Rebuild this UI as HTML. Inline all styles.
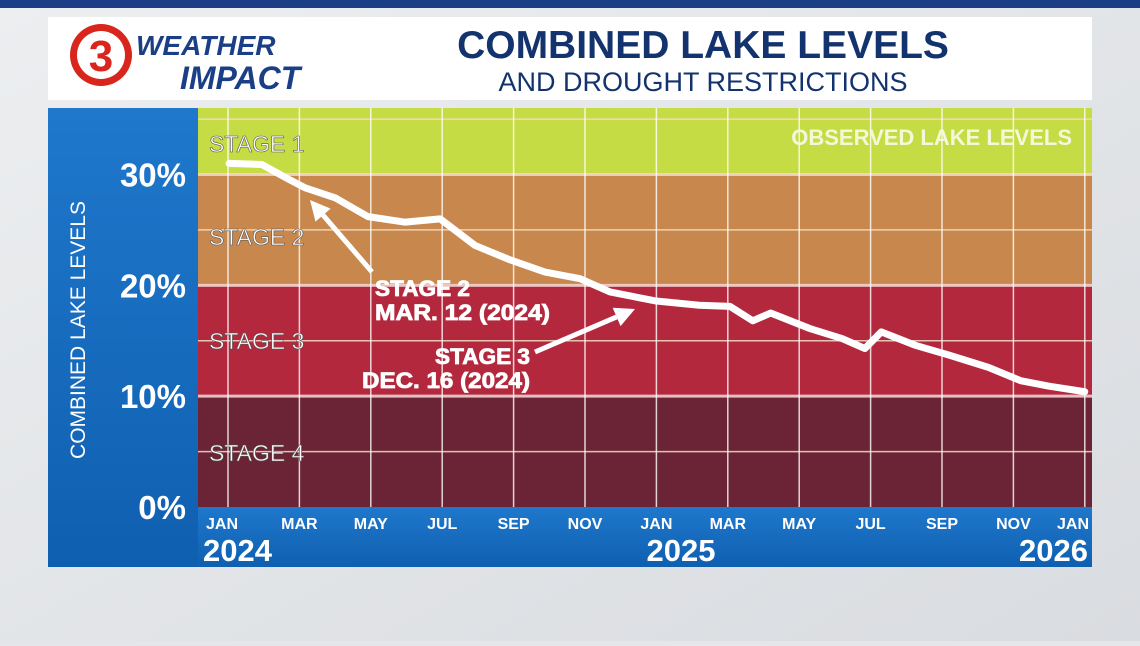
<!DOCTYPE html>
<html><head><meta charset="utf-8">
<style>
body{margin:0;width:1140px;height:641px;overflow:hidden;background:#e4e6e9;font-family:"Liberation Sans",sans-serif;}
</style></head>
<body>
<svg width="1140" height="641" viewBox="0 0 1140 641">
<defs>
<linearGradient id="bg" x1="0" y1="0" x2="1" y2="1"><stop offset="0" stop-color="#eceef0"/><stop offset="1" stop-color="#d9dce0"/></linearGradient>
<linearGradient id="blue" x1="0" y1="0" x2="0" y2="1"><stop offset="0" stop-color="#1f78cc"/><stop offset="1" stop-color="#0f5fb0"/></linearGradient>
</defs>
<rect width="1140" height="641" fill="url(#bg)"/>
<rect x="0" y="0" width="1140" height="8" fill="#1b3f86"/>
<rect x="48" y="17" width="1044" height="83" fill="#fff"/>
<g>
<circle cx="101" cy="55" r="31" fill="#d9261c"/><circle cx="101" cy="55" r="24" fill="#fff"/>
<text x="101" y="71" font-size="44" font-weight="bold" fill="#d9261c" text-anchor="middle">3</text>
<text x="136" y="55" font-size="28" font-weight="bold" fill="#1b3f86" font-style="italic">WEATHER</text>
<text x="180" y="89" font-size="32" font-weight="bold" fill="#1b3f86" font-style="italic">IMPACT</text>
</g>
<text x="703" y="58" font-size="39" font-weight="bold" fill="#13336e" text-anchor="middle">COMBINED LAKE LEVELS</text>
<text x="703" y="91" font-size="27" fill="#13336e" text-anchor="middle">AND DROUGHT RESTRICTIONS</text>
<rect x="48" y="108" width="150" height="459" fill="url(#blue)"/>
<rect x="198" y="507" width="894" height="60" fill="url(#blue)"/>
<text transform="translate(85,330) rotate(-90)" font-size="21" fill="#fff" text-anchor="middle">COMBINED LAKE LEVELS</text>
<g id="plot"></g>
<g id="axes"></g>
</svg>
<script>
const stageNames=["STAGE 4","STAGE 3","STAGE 2","STAGE 1"];
const stageBounds=[0,10,20,30,36];
const stageColors=["#6b2435","#b3283d","#c8874c","#c6dc44"];
const yTicks=[0,10,20,30];
const monthLabels=["JAN","MAR","MAY","JUL","SEP","NOV","JAN","MAR","MAY","JUL","SEP","NOV","JAN"];
const yearLabels=["2024","2025","2026"];
const months=[0.03,0.95,1.74,2.16,3.0,3.92,4.96,5.94,6.92,7.9,8.88,9.86,10.7,11.96,13.2,14.06,14.7,15.2,16.3,17.2,17.84,18.3,19.24,20.2,21.3,22.2,23.0,24.0];
const levels=[31.0,30.9,29.5,28.8,27.9,26.2,25.7,26.0,23.6,22.3,21.2,20.6,19.4,18.6,18.2,18.1,16.8,17.5,16.1,15.2,14.3,15.8,14.6,13.7,12.6,11.4,10.9,10.4];
const NS="http://www.w3.org/2000/svg";
const X0=198,X1=1092,Y0=507,Y1=108;
function xs(m){return 228+m*35.7;}
function ys(v){return Y0-(v/36)*(Y0-Y1);}
function mk(t,a,p){const e=document.createElementNS(NS,t);for(const k in a)e.setAttribute(k,a[k]);p.appendChild(e);return e;}
const plot=document.getElementById('plot'),axes=document.getElementById('axes');
for(let i=0;i<4;i++){
 const r=mk('rect',{x:X0,y:ys(stageBounds[i+1]),width:X1-X0,height:ys(stageBounds[i])-ys(stageBounds[i+1]),fill:stageColors[i]},plot);
 
 
}
for(let v=5;v<36;v+=5){
 const l=mk('line',{x1:X0,x2:X1,y1:ys(v),y2:ys(v),stroke:v%10==0?'#f6d6d6':'#f0e0c8','stroke-width':v%10==0?3:1.5,opacity:0.85},plot);
 
 
}
for(let m=0;m<=24;m+=2){
 const l=mk('line',{x1:xs(m),x2:xs(m),y1:Y1,y2:Y0,stroke:'#fff','stroke-width':1.5,opacity:0.8},plot);
 
 
}
const stageLabelY=[452,340,236,143];
for(let i=0;i<4;i++){
 const t=mk('text',{x:209,y:stageLabelY[i]+9,'font-size':23,fill:'#fff',stroke:'#555','stroke-width':0.6},plot);
 t.textContent=stageNames[i];
 
 
}
const ot=mk('text',{x:1072,y:145,'font-size':22,'font-weight':'bold',fill:'#f4f8d8','text-anchor':'end'},plot);
ot.textContent="OBSERVED LAKE LEVELS";


const pl=mk('polyline',{points:months.map((m,i)=>xs(m)+','+ys(levels[i])).join(' '),fill:'none',stroke:'#fff','stroke-width':7,'stroke-linejoin':'round','stroke-linecap':'round'},plot);


function arrow(x1,y1,x2,y2,name){
 const g=mk('g',{},plot);
 
 
 const a=Math.atan2(y2-y1,x2-x1),L=20;
 const bx=x2-L*Math.cos(a),by=y2-L*Math.sin(a);
 mk('line',{x1:x1,y1:y1,x2:bx,y2:by,stroke:'#fff','stroke-width':5},g);
 const px=-Math.sin(a)*10,py=Math.cos(a)*10;
 mk('polygon',{points:`${x2},${y2} ${bx+px},${by+py} ${bx-px},${by-py}`,fill:'#fff'},g);
}
arrow(372,272,310,200,'stage2-arrow');
arrow(535,352,635,309,'stage3-arrow');
[["STAGE 2",375,296,"start",95],["MAR. 12 (2024)",375,320,"start",175],["STAGE 3",530,364,"end",95],["DEC. 16 (2024)",530,388,"end",168]].forEach(d=>{
 const t=mk('text',{x:d[1],y:d[2],'font-size':22,'font-weight':'bold',fill:'#fff','text-anchor':d[3],stroke:'#fff','stroke-width':0.8,textLength:d[4],lengthAdjust:'spacingAndGlyphs'},plot);
 t.textContent=d[0];
 
 
});
yTicks.forEach(v=>{
 const t=mk('text',{x:186,y:ys(v)+12,'font-size':33,'font-weight':'bold',fill:'#fff','text-anchor':'end'},axes);
 t.textContent=v+'%';
 
 
});
monthLabels.forEach((s,i)=>{
 let x=xs(i*2);
 if(i==0)x=222;if(i==12)x=1073;
 const t=mk('text',{x:x,y:529,'font-size':16,'font-weight':'bold',fill:'#fff','text-anchor':'middle'},axes);
 t.textContent=s;
 
 
});
[[203,'start'],[681,'middle'],[1088,'end']].forEach((p,i)=>{
 const t=mk('text',{x:p[0],y:561,'font-size':31,'font-weight':'bold',fill:'#fff','text-anchor':p[1]},axes);
 t.textContent=yearLabels[i];
 
 
});
</script>
</body></html>
